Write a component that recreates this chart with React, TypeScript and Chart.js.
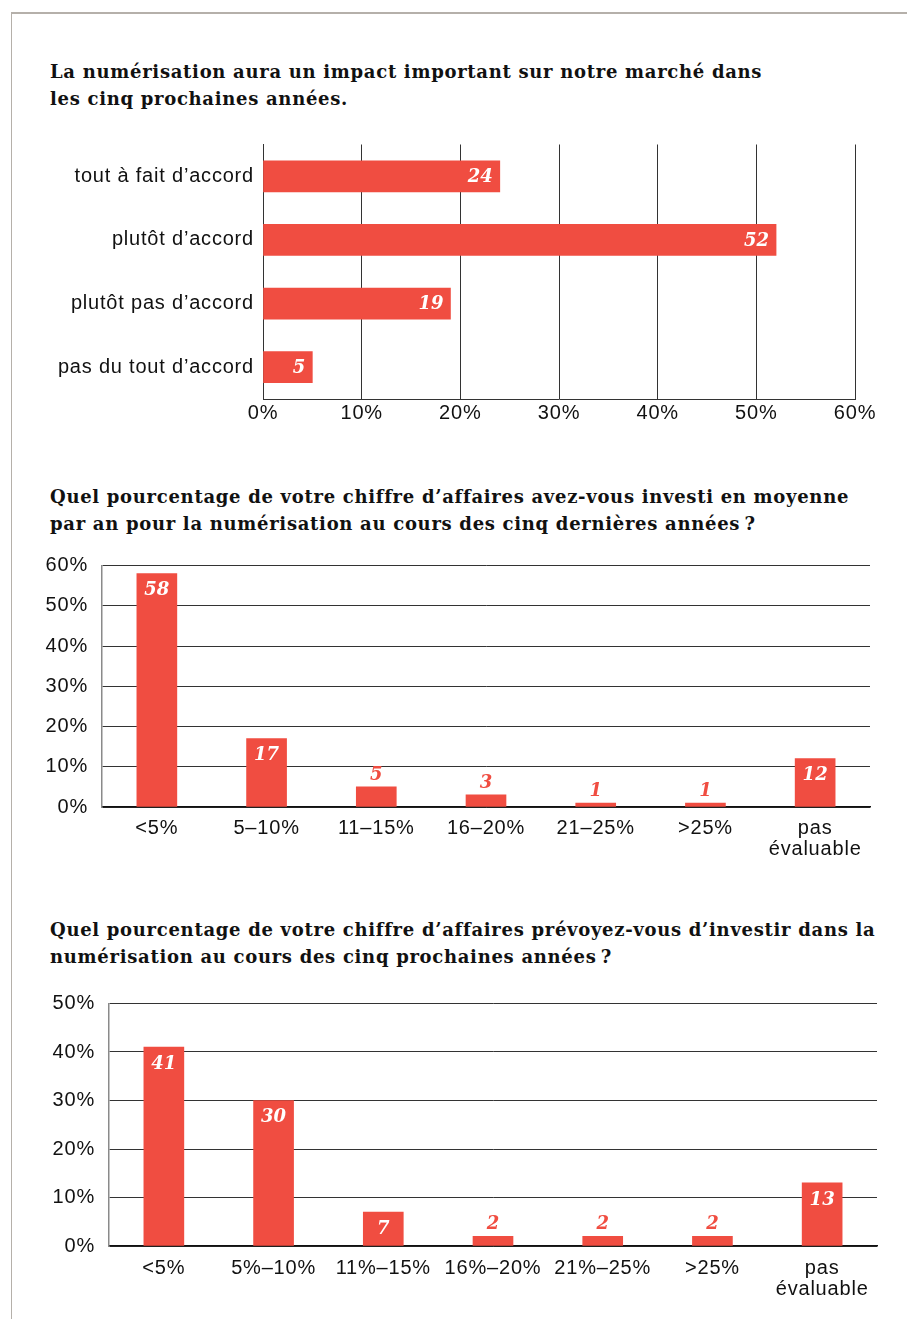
import React, { useEffect, useRef } from "react";
import { Chart, registerables } from "chart.js";

Chart.register(...registerables);

// ---------- data ----------
const title1 = ["La numérisation aura un impact important sur notre marché dans", "les cinq prochaines années."];
const agreeCategories = ["tout à fait d’accord", "plutôt d’accord", "plutôt pas d’accord", "pas du tout d’accord"];
const agreeValues = [24, 52, 19, 5];
const agreeTicks = [0, 10, 20, 30, 40, 50, 60];

const title2 = ["Quel pourcentage de votre chiffre d’affaires avez-vous investi en moyenne", "par an pour la numérisation au cours des cinq dernières années\u202F?"];
const pastCategories: (string | string[])[] = ["<5%", "5–10%", "11–15%", "16–20%", "21–25%", ">25%", ["pas", "évaluable"]];
const pastValues = [58, 17, 5, 3, 1, 1, 12];

const title3 = ["Quel pourcentage de votre chiffre d’affaires prévoyez-vous d’investir dans la", "numérisation au cours des cinq prochaines années\u202F?"];
const futureCategories: (string | string[])[] = ["<5%", "5%–10%", "11%–15%", "16%–20%", "21%–25%", ">25%", ["pas", "évaluable"]];
const futureValues = [41, 30, 7, 2, 2, 2, 13];

// ---------- styles ----------
const RED = "#f04d41";
const GRID = "#333333";
const AXIS_GRAY = "#8a8a8a";
const SANS = "'Liberation Sans', Arial, sans-serif";
const SERIF = "'DejaVu Serif', serif";
const TICK_FONT = { family: SANS, size: 20, lineHeight: 1.05 };
const LETTER_SPACING = "0.8px";

const spacingPlugin = {
  id: "spacing",
  beforeDraw(chart: any) {
    (chart.ctx as any).letterSpacing = LETTER_SPACING;
  },
};

const valueLabelPlugin = {
  id: "valueLabels",
  afterDatasetsDraw(chart: any, _args: any, opts: any) {
    const ctx = chart.ctx as CanvasRenderingContext2D;
    const meta = chart.getDatasetMeta(0);
    const data = chart.data.datasets[0].data as number[];
    ctx.save();
    (ctx as any).letterSpacing = "0px";
    ctx.font = `italic bold 18px ${SERIF}`;
    meta.data.forEach((bar: any, i: number) => {
      const v = data[i];
      const p = bar.getProps(["x", "y", "base"], true);
      if (opts.horizontal) {
        ctx.fillStyle = "#ffffff";
        ctx.textAlign = "right";
        ctx.textBaseline = "middle";
        ctx.fillText(String(v), p.x - 7, p.y + 1);
      } else {
        const h = p.base - p.y;
        ctx.textAlign = "center";
        ctx.textBaseline = "middle";
        if (h > 28) {
          ctx.fillStyle = "#ffffff";
          ctx.fillText(String(v), p.x, p.y + 17);
        } else {
          ctx.fillStyle = RED;
          ctx.fillText(String(v), p.x, p.y - 12);
        }
      }
    });
    ctx.restore();
  },
};

function HBarChart() {
  const ref = useRef<HTMLCanvasElement>(null);
  useEffect(() => {
    const chart = new Chart(ref.current!, {
      type: "bar",
      data: {
        labels: agreeCategories,
        datasets: [{ data: agreeValues, backgroundColor: RED, barThickness: 31 }],
      },
      options: {
        indexAxis: "y",
        animation: false,
        responsive: false,
        layout: { padding: { top: 15, right: 52, left: 0, bottom: 0 } },
        plugins: { legend: { display: false }, tooltip: { enabled: false }, valueLabels: { horizontal: true } } as any,
        scales: {
          x: {
            min: 0,
            max: 60,
            afterBuildTicks: (scale: any) => {
              scale.ticks = agreeTicks.map((v) => ({ value: v }));
            },
            ticks: { callback: (v: any) => v + "%", color: "#111", font: TICK_FONT, padding: 4, maxRotation: 0 },
            grid: { color: GRID, lineWidth: 1, drawTicks: false },
            border: { color: GRID, width: 1 },
            afterFit: (s: any) => { s.height = 32; },
          },
          y: {
            ticks: { color: "#111", font: TICK_FONT, padding: 9 },
            grid: { display: false, drawTicks: false },
            border: { color: GRID, width: 1 },
            afterFit: (s: any) => { s.width = 263; },
          },
        },
      },
      plugins: [spacingPlugin, valueLabelPlugin],
    } as any);
    return () => chart.destroy();
  }, []);
  return <canvas ref={ref} width={907} height={306} style={{ position: "absolute", left: 0, top: 125, width: 907, height: 306 }} />;
}

function VBarChart(props: {
  labels: (string | string[])[];
  values: number[];
  max: number;
  top: number;
  height: number;
  padTop: number;
  padRight: number;
  yWidth: number;
  xHeight: number;
  xPad: number;
}) {
  const ref = useRef<HTMLCanvasElement>(null);
  useEffect(() => {
    const chart = new Chart(ref.current!, {
      type: "bar",
      data: {
        labels: props.labels,
        datasets: [{ data: props.values, backgroundColor: RED, barThickness: 40 }],
      },
      options: {
        animation: false,
        responsive: false,
        layout: { padding: { top: props.padTop, right: props.padRight, left: 0, bottom: 0 } },
        plugins: { legend: { display: false }, tooltip: { enabled: false }, valueLabels: { horizontal: false } } as any,
        scales: {
          x: {
            ticks: { color: "#111", font: TICK_FONT, padding: props.xPad, maxRotation: 0, autoSkip: false },
            grid: { display: false, drawTicks: false },
            border: { color: "#111", width: 1.5 },
            afterFit: (s: any) => { s.height = props.xHeight; },
          },
          y: {
            min: 0,
            max: props.max,
            ticks: { stepSize: 10, callback: (v: any) => v + "%", color: "#111", font: TICK_FONT, padding: 14 },
            grid: { color: GRID, lineWidth: 1, drawTicks: false },
            border: { color: AXIS_GRAY, width: 1.5 },
            afterFit: (s: any) => { s.width = props.yWidth; },
          },
        },
      },
      plugins: [spacingPlugin, valueLabelPlugin],
    } as any);
    return () => chart.destroy();
  }, []);
  return (
    <canvas
      ref={ref}
      width={907}
      height={props.height}
      style={{ position: "absolute", left: 0, top: props.top, width: 907, height: props.height }}
    />
  );
}

function Title(props: { lines: string[]; top: number }) {
  return (
    <div
      style={{
        position: "absolute",
        left: 50,
        top: props.top,
        fontFamily: SERIF,
        fontWeight: "bold",
        fontSize: 18,
        letterSpacing: "0.7px",
        lineHeight: "27px",
        color: "#111",
        whiteSpace: "nowrap",
      }}
    >
      {props.lines.map((l, i) => (
        <div key={i}>{l}</div>
      ))}
    </div>
  );
}

export default function App() {
  return (
    <div style={{ position: "absolute", left: 0, top: 0, width: 907, height: 1319, overflow: "hidden", background: "#fff" }}>
      <div
        style={{
          position: "absolute",
          left: 11,
          top: 12,
          width: 907,
          height: 1319,
          borderTop: "2px solid #b5b0aa",
          borderLeft: "1.5px solid #b5b0aa",
        }}
      />
      <Title lines={title1} top={58} />
      <HBarChart />
      <Title lines={title2} top={483} />
      <VBarChart labels={pastCategories} values={pastValues} max={60} top={541} height={339} padTop={15} padRight={37} yWidth={102} xHeight={73} xPad={11} />
      <Title lines={title3} top={916} />
      <VBarChart labels={futureCategories} values={futureValues} max={50} top={979} height={340} padTop={18} padRight={30} yWidth={109} xHeight={73} xPad={12} />
    </div>
  );
}
